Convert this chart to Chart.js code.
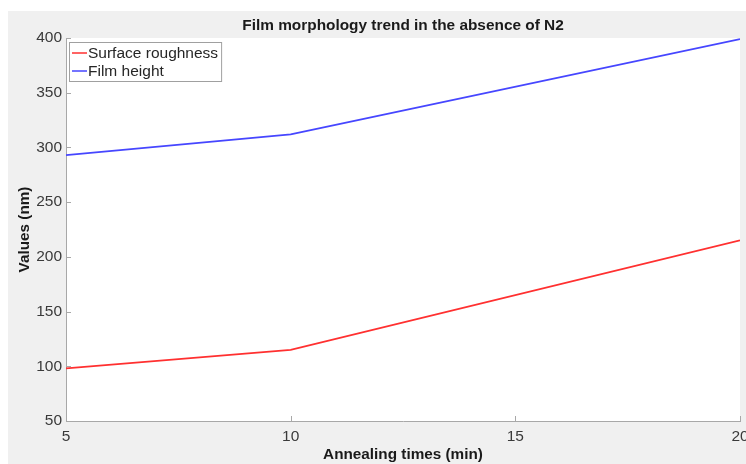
<!DOCTYPE html>
<html lang="en">
<head>
    <meta charset="UTF-8">
    <title>Film morphology</title>
    <style>
        body {
            margin: 0;
            background: #ffffff;
        }
        #figure {
            position: absolute;
            left: 8px;
            top: 11px;
            width: 738px;
            height: 453px;
            background: #f0f0f0;
        }
    </style>
</head>
<body>

    <div id="figure">
        <canvas id="trendChart" width="738" height="453"></canvas>
    </div>

    <script src="https://cdn.jsdelivr.net/npm/chart.js@4.4.0/dist/chart.umd.min.js"></script>
    <script>
    // annealing times (min) and measured values (nm)
    var annealTimes = [5, 10, 20];
    var roughness = [98, 115, 215];
    var filmHeight = [293, 312, 399];

    var xTicks = [5, 10, 15, 20];
    var yTicks = [50, 100, 150, 200, 250, 300, 350, 400];

    var chartTitle = 'Film morphology trend in the absence of N2';
    var fontFamily = '"Liberation Sans", Arial, Helvetica, sans-serif';
    var axisColor = '#a8a8a8';
    var textColor = '#3a3a3a';

    function toPoints(xs, ys) {
        return xs.map(function (x, i) { return { x: x, y: ys[i] }; });
    }

    // white plot box behind the data
    var plotBackground = {
        id: 'plotBackground',
        beforeDraw: function (chart) {
            var a = chart.chartArea;
            var ctx = chart.ctx;
            ctx.save();
            ctx.fillStyle = '#ffffff';
            ctx.fillRect(a.left, a.top, a.right - a.left, a.bottom - a.top);
            ctx.restore();
        }
    };

    // title, inward tick marks and the legend box
    var decorations = {
        id: 'decorations',
        afterDraw: function (chart) {
            var ctx = chart.ctx;
            var a = chart.chartArea;
            var xs = chart.scales.x;
            var ys = chart.scales.y;
            ctx.save();

            ctx.fillStyle = '#1a1a1a';
            ctx.font = 'bold 15.4px ' + fontFamily;
            ctx.textAlign = 'center';
            ctx.textBaseline = 'middle';
            ctx.fillText(chartTitle, (a.left + a.right) / 2, 15);

            ctx.strokeStyle = axisColor;
            ctx.lineWidth = 1;
            ctx.beginPath();
            xTicks.forEach(function (v) {
                var px = Math.round(xs.getPixelForValue(v)) + 0.5;
                ctx.moveTo(px, a.bottom);
                ctx.lineTo(px, a.bottom - 5);
            });
            yTicks.forEach(function (v) {
                var py = Math.round(ys.getPixelForValue(v)) + 0.5;
                ctx.moveTo(a.left, py);
                ctx.lineTo(a.left + 5, py);
            });
            ctx.stroke();

            // legend
            ctx.font = '15.5px ' + fontFamily;
            ctx.textAlign = 'left';
            var sets = chart.data.datasets;
            var textW = 0;
            sets.forEach(function (d) { textW = Math.max(textW, ctx.measureText(d.label).width); });
            var bx = a.left + 3, by = a.top + 4;
            var bw = 19 + textW + 3, bh = 39;
            ctx.fillStyle = '#ffffff';
            ctx.fillRect(bx, by, bw, bh);
            ctx.strokeStyle = '#a0a0a0';
            ctx.lineWidth = 1;
            ctx.strokeRect(bx + 0.5, by + 0.5, bw, bh);
            sets.forEach(function (d, i) {
                var ry = by + 11 + i * 18;
                ctx.strokeStyle = d.borderColor;
                ctx.lineWidth = 1.5;
                ctx.beginPath();
                ctx.moveTo(bx + 3, ry);
                ctx.lineTo(bx + 18, ry);
                ctx.stroke();
                ctx.fillStyle = '#262626';
                ctx.fillText(d.label, bx + 19, ry + 1);
            });

            ctx.restore();
        }
    };

    var ctx = document.getElementById('trendChart').getContext('2d');
    var trendChart = new Chart(ctx, {
        type: 'line',
        data: {
            datasets: [{
                label: 'Surface roughness',
                data: toPoints(annealTimes, roughness),
                borderColor: '#ff3030',
                borderWidth: 1.8,
                pointRadius: 0,
                tension: 0
            }, {
                label: 'Film height',
                data: toPoints(annealTimes, filmHeight),
                borderColor: '#4646ff',
                borderWidth: 1.8,
                pointRadius: 0,
                tension: 0
            }]
        },
        options: {
            responsive: false,
            animation: false,
            devicePixelRatio: 1,
            layout: {
                autoPadding: false,
                padding: { top: 27, right: 6, left: 0, bottom: 0 }
            },
            plugins: {
                legend: { display: false },
                title: { display: false },
                tooltip: { enabled: false }
            },
            scales: {
                x: {
                    type: 'linear',
                    min: 5,
                    max: 20,
                    afterFit: function (scale) {
                        scale.height = 43;
                        // let the last tick label run past the canvas edge
                        scale.paddingLeft = 0;
                        scale.paddingRight = 0;
                    },
                    afterBuildTicks: function (scale) {
                        scale.ticks = xTicks.map(function (v) { return { value: v }; });
                    },
                    grid: { display: false, drawTicks: false },
                    border: { display: true, color: axisColor, width: 1 },
                    ticks: {
                        padding: 6,
                        maxRotation: 0,
                        color: textColor,
                        font: { family: fontFamily, size: 15.5 }
                    },
                    title: {
                        display: true,
                        text: 'Annealing times (min)',
                        color: '#1a1a1a',
                        font: { family: fontFamily, size: 15.3, weight: 'bold' },
                        padding: { top: 0, bottom: 0 }
                    }
                },
                y: {
                    type: 'linear',
                    min: 50,
                    max: 400,
                    afterFit: function (scale) {
                        scale.width = 58;
                        scale.paddingTop = 0;
                        scale.paddingBottom = 0;
                    },
                    afterBuildTicks: function (scale) {
                        scale.ticks = yTicks.map(function (v) { return { value: v }; });
                    },
                    grid: { display: false, drawTicks: false },
                    border: { display: true, color: axisColor, width: 1 },
                    ticks: {
                        padding: 4,
                        color: textColor,
                        font: { family: fontFamily, size: 15.5 }
                    },
                    title: {
                        display: true,
                        text: 'Values (nm)',
                        color: '#1a1a1a',
                        font: { family: fontFamily, size: 15.3, weight: 'bold' },
                        padding: { top: 8, bottom: 0 }
                    }
                }
            }
        },
        plugins: [plotBackground, decorations]
    });
    </script>

</body>
</html>
